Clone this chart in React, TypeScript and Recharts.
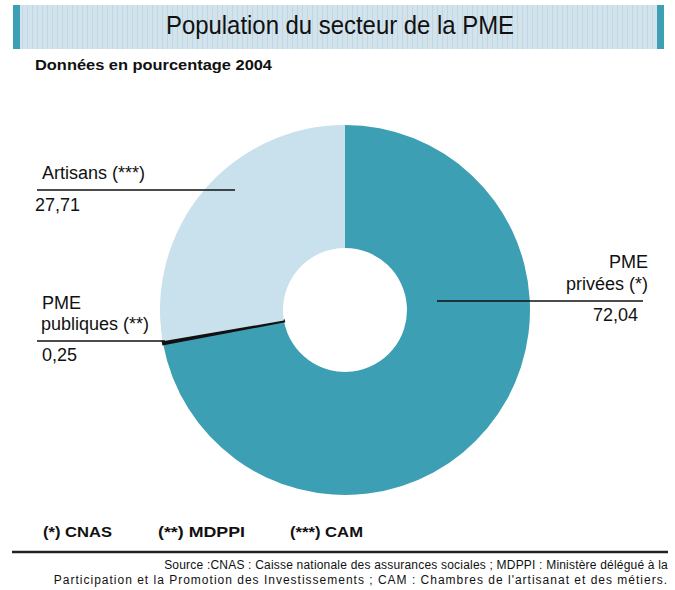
import { PieChart, Pie, Cell } from "recharts";

const sectors = ["PME privées (*)", "PME publiques (**)", "Artisans (***)"];
const shares = [72.04, 0.25, 27.71];
const shareLabels = ["72,04", "0,25", "27,71"];
const notes = ["(*) CNAS", "(**) MDPPI", "(***) CAM"];
const sourceLines = [
  "Source :CNAS : Caisse nationale des assurances sociales ; MDPPI : Ministère délégué à la",
  "Participation et la Promotion des Investissements ; CAM : Chambres de l'artisanat et des métiers.",
];

const COLORS = ["#3c9fb3", "#111111", "#c9e1ec"];
const FONT = "'Liberation Sans', Arial, sans-serif";

const data = sectors.map((name, i) => ({ name, value: shares[i] }));

export default function App() {
  return (
    <div style={{ position: "absolute", left: 0, top: 0, width: 675, height: 590, background: "#fff", fontFamily: FONT }}>
      <PieChart width={675} height={590} margin={{ top: 0, right: 0, bottom: 0, left: 0 }}>
        <Pie
          data={data}
          dataKey="value"
          nameKey="name"
          cx={345}
          cy={310}
          outerRadius={185}
          innerRadius={62}
          startAngle={90}
          endAngle={-270}
          stroke="none"
          isAnimationActive={false}
        >
          {data.map((_, i) => (
            <Cell
              key={`cell-${i}`}
              fill={COLORS[i]}
              stroke={i === 1 ? "#111" : "none"}
              strokeWidth={i === 1 ? 2 : 0}
            />
          ))}
        </Pie>
      </PieChart>

      <svg width={675} height={590} style={{ position: "absolute", left: 0, top: 0, pointerEvents: "none" }}>
        <defs>
          <pattern id="grain" width="5" height="4" patternUnits="userSpaceOnUse">
            <rect width="5" height="4" fill="#d2e3ec" />
            <rect x="2" width="1" height="4" fill="#c2d7e5" />
          </pattern>
        </defs>
        {/* banner */}
        <rect x={13} y={5} width={651} height={44} fill="url(#grain)" />
        <rect x={13} y={5} width={7} height={44} fill="#3c9fb3" />
        <rect x={657} y={5} width={7} height={44} fill="#3c9fb3" />
        <text x={340} y={34} textAnchor="middle" fontSize={25} fill="#111" textLength={348} lengthAdjust="spacingAndGlyphs">
          Population du secteur de la PME
        </text>
        <text x={35} y={70} fontSize={14} fontWeight="bold" fill="#111" textLength={237} lengthAdjust="spacingAndGlyphs">
          Données en pourcentage 2004
        </text>

        {/* Artisans */}
        <text x={42} y={179} fontSize={18} fill="#111">{sectors[2]}</text>
        <line x1={37} y1={190} x2={235} y2={190} stroke="#111" strokeWidth={1.5} />
        <text x={35} y={211} fontSize={18} fill="#111">{shareLabels[2]}</text>

        {/* PME publiques */}
        <text x={42} y={309} fontSize={18} fill="#111">PME</text>
        <text x={41} y={330} fontSize={18} fill="#111">publiques (**)</text>
        <line x1={37} y1={341} x2={165} y2={341} stroke="#111" strokeWidth={1.5} />
        <text x={42} y={361} fontSize={18} fill="#111">{shareLabels[1]}</text>

        {/* PME privées */}
        <text x={648} y={268} textAnchor="end" fontSize={18} fill="#111">PME</text>
        <text x={648} y={290} textAnchor="end" fontSize={18} fill="#111">privées (*)</text>
        <line x1={437} y1={301} x2={643} y2={301} stroke="#111" strokeWidth={1.5} />
        <text x={638} y={321} textAnchor="end" fontSize={18} fill="#111">{shareLabels[0]}</text>

        {/* notes */}
        <text x={43} y={537} fontSize={15} fontWeight="bold" fill="#111" textLength={69} lengthAdjust="spacingAndGlyphs">{notes[0]}</text>
        <text x={158} y={537} fontSize={15} fontWeight="bold" fill="#111" textLength={87} lengthAdjust="spacingAndGlyphs">{notes[1]}</text>
        <text x={290} y={537} fontSize={15} fontWeight="bold" fill="#111" textLength={73} lengthAdjust="spacingAndGlyphs">{notes[2]}</text>
        <line x1={12} y1={552} x2={668} y2={552} stroke="#222" strokeWidth={2.5} />
        <text x={668} y={569} textAnchor="end" fontSize={12} letterSpacing={0.2} fill="#111">
          {sourceLines[0]}
        </text>
        <text x={668} y={584} textAnchor="end" fontSize={12} letterSpacing={1} fill="#111">
          {sourceLines[1]}
        </text>
      </svg>
    </div>
  );
}
